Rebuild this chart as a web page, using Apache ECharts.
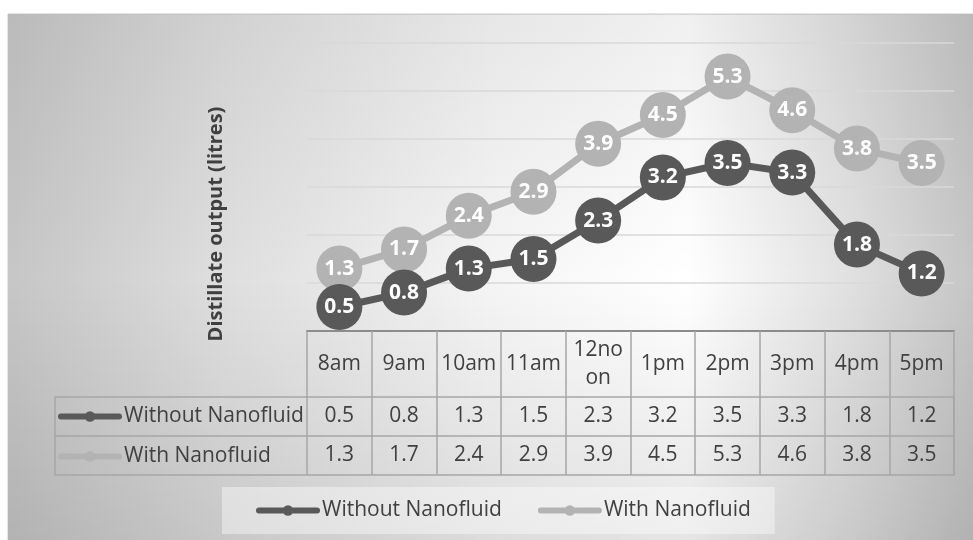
<!DOCTYPE html>
<html>
<head>
<meta charset="utf-8">
<title>Distillate output</title>
<script src="https://cdn.jsdelivr.net/npm/echarts@6/dist/echarts.min.js"></script>
<style>
  html, body { margin: 0; padding: 0; background: #fff; }
  #chart { width: 973px; height: 540px; }
</style>
</head>
<body>
<div id="chart"></div>
<script>
// data
const hours = ['8am', '9am', '10am', '11am', '12noon', '1pm', '2pm', '3pm', '4pm', '5pm'];
const withoutNano = [0.5, 0.8, 1.3, 1.5, 2.3, 3.2, 3.5, 3.3, 1.8, 1.2];
const withNano = [1.3, 1.7, 2.4, 2.9, 3.9, 4.5, 5.3, 4.6, 3.8, 3.5];
const seriesNames = ['Without Nanofluid', 'With Nanofluid'];

const chart = echarts.init(document.getElementById('chart'));

// plot / table layout
const plotLeft = 307, plotRight = 954, plotTop = 43, plotBottom = 331;
const rowTop = 397, rowMid = 436, rowBottom = 475;
const textColor = '#404040';
const font = 'Open Sans';

const darkGray = '#595959';
const lightGray = '#b3b3b3';

const rowLabel = (values, margin) => ({
  show: true,
  interval: 0,
  margin: margin,
  verticalAlign: 'middle',
  fontSize: 21,
  fontFamily: font,
  color: textColor,
  formatter: (v, i) => String(values[i])
});

const legendBase = {
  data: seriesNames,
  itemWidth: 58,
  itemHeight: 13,
  selectedMode: false,
  lineStyle: { width: 6, cap: 'round' },
  textStyle: { fontSize: 21, lineHeight: 20, color: textColor, fontFamily: font }
};

const option = {
  backgroundColor: '#ffffff',
  animation: false,
  textStyle: { fontFamily: font },
  grid: {
    left: plotLeft,
    right: 973 - plotRight,
    top: plotTop,
    bottom: 540 - plotBottom
  },
  legend: [
    Object.assign({}, legendBase, {
      // legend under the chart
      left: 222,
      top: 487,
      padding: [13, 24, 13, 34],
      backgroundColor: 'rgba(255,255,255,0.4)',
      itemGap: 36
    }),
    Object.assign({}, legendBase, {
      // legend keys inside the data table
      orient: 'vertical',
      left: 58,
      top: 406,
      padding: 0,
      itemGap: 19
    })
  ],
  xAxis: [
    {
      type: 'category',
      data: hours,
      position: 'bottom',
      axisLine: { show: true, lineStyle: { color: '#8c8c8c', width: 2 } },
      axisTick: { show: true, interval: 0, length: rowBottom - plotBottom, lineStyle: { color: '#a6a6a6', width: 1.5 } },
      axisLabel: {
        interval: 0,
        margin: 33,
        verticalAlign: 'middle',
        fontSize: 21,
        fontFamily: font,
        color: textColor,
        width: 58,
        overflow: 'breakAll',
        lineHeight: 28
      }
    },
    {
      type: 'category',
      data: hours,
      position: 'bottom',
      axisLine: { show: false },
      axisTick: { show: false },
      axisLabel: rowLabel(withoutNano, 85)
    },
    {
      type: 'category',
      data: hours,
      position: 'bottom',
      axisLine: { show: false },
      axisTick: { show: false },
      axisLabel: rowLabel(withNano, 124)
    }
  ],
  yAxis: {
    type: 'value',
    min: 0,
    max: 6,
    interval: 1,
    axisLine: { show: false },
    axisTick: { show: false },
    axisLabel: { show: false },
    splitLine: { lineStyle: { color: '#d9d9d9', width: 1.5 } }
  },
  series: [
    {
      name: seriesNames[0],
      type: 'line',
      data: withoutNano,
      z: 4,
      symbol: 'circle',
      symbolSize: 46,
      color: darkGray,
      lineStyle: { color: darkGray, width: 7, cap: 'round' },
      itemStyle: { color: darkGray },
      label: { show: true, position: 'inside', color: '#fff', fontWeight: 'bold', fontSize: 21, fontFamily: font },
      emphasis: { disabled: true }
    },
    {
      name: seriesNames[1],
      type: 'line',
      data: withNano,
      z: 3,
      symbol: 'circle',
      symbolSize: 46,
      color: lightGray,
      lineStyle: { color: lightGray, width: 7, cap: 'round' },
      itemStyle: { color: lightGray },
      label: { show: true, position: 'inside', color: '#fff', fontWeight: 'bold', fontSize: 21, fontFamily: font },
      emphasis: { disabled: true }
    }
  ],
  graphic: [
    {
      // chart area background, lighter toward the centre right
      type: 'rect',
      z: -100,
      shape: { x: 8, y: 14, width: 970, height: 530 },
      style: {
        fill: new echarts.graphic.LinearGradient(0, 0, 1, 0, [
          { offset: 0, color: '#c6c6c6' },
          { offset: 0.22, color: '#dedede' },
          { offset: 0.5, color: '#f5f5f5' },
          { offset: 0.7, color: '#ffffff' },
          { offset: 0.86, color: '#e2e2e2' },
          { offset: 1, color: '#c4c4c4' }
        ]),
        stroke: '#c8c8c8',
        lineWidth: 1
      }
    },
    {
      type: 'rect',
      z: -99,
      shape: { x: 8, y: 14, width: 970, height: 530 },
      style: {
        fill: new echarts.graphic.LinearGradient(0, 0, 0, 1, [
          { offset: 0, color: 'rgba(0,0,0,0.06)' },
          { offset: 0.5, color: 'rgba(0,0,0,0)' },
          { offset: 1, color: 'rgba(0,0,0,0.1)' }
        ])
      }
    },
    {
      // data table body outline (key column + rows)
      type: 'rect',
      z: 1,
      shape: { x: 55, y: rowTop, width: plotRight - 55, height: rowBottom - rowTop },
      style: { fill: null, stroke: '#a6a6a6', lineWidth: 1.5 }
    },
    {
      type: 'line',
      z: 1,
      shape: { x1: 55, y1: rowMid, x2: plotRight, y2: rowMid },
      style: { stroke: '#a6a6a6', lineWidth: 1.5 }
    },
    {
      type: 'text',
      x: 216,
      y: 224,
      rotation: Math.PI / 2,
      style: {
        text: 'Distillate output (litres)',
        font: 'bold 20px "Open Sans"',
        fill: textColor,
        align: 'center',
        verticalAlign: 'middle'
      }
    }
  ]
};

chart.setOption(option);
</script>
</body>
</html>
